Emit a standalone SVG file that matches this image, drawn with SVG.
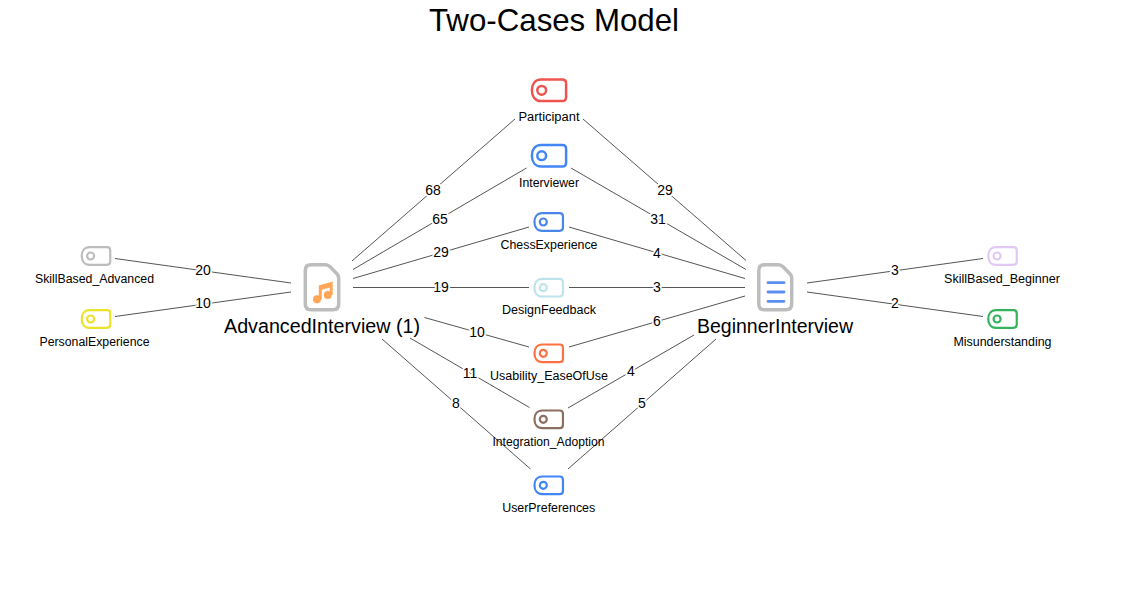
<svg xmlns="http://www.w3.org/2000/svg" width="1146" height="593" viewBox="0 0 1146 593">
<style>
text{font-family:"Liberation Sans",Arial,sans-serif;fill:#000;text-anchor:middle}
.title{font-size:32px}
.doc{font-size:20px}
.tagl{font-size:12px}
.el{font-size:14px;stroke:#fff;stroke-width:3.500px;paint-order:stroke;stroke-linejoin:round}
#connectors line{stroke:#555;stroke-width:1}
.t{fill:#fff;stroke-width:2.200;stroke-linejoin:round}
.tl{stroke-width:2.500}
.d{fill:#fff;stroke:#bdbdbd;stroke-width:3.500;stroke-linejoin:round}
</style>
<defs>
<g id="tag-l"><path class="t tl" d="M-8-10.800H13.300Q17.100-10.800 17.100-7V7Q17.100 10.800 13.300 10.800H-8C-14 10.800-17.100 6-17.100 0S-14-10.800-8-10.800Z"/><circle class="t tl" cx="-7.300" cy="0" r="4.400"/></g>
<g id="tag-s"><path class="t" d="M-6.500-8.800H11Q14.250-8.800 14.250-5.600V5.600Q14.250 8.800 11 8.800H-6.500C-11.500 8.800-14.250 5-14.250 0S-11.500-8.800-6.500-8.800Z"/><circle class="t" cx="-5.400" cy="0" r="3.500"/></g>
</defs>
<text class="title" x="554" y="31" textLength="250" lengthAdjust="spacingAndGlyphs">Two-Cases Model</text>
<g id="connectors">
<line x1="515" y1="119" x2="352" y2="261"/>
<line x1="526.500" y1="168" x2="353" y2="269.500"/>
<line x1="529" y1="227" x2="353" y2="278.500"/>
<line x1="529" y1="287.500" x2="353" y2="287.500"/>
<line x1="529" y1="347" x2="424.500" y2="317.500"/>
<line x1="529.500" y1="407.500" x2="410" y2="338"/>
<line x1="530.500" y1="469" x2="382" y2="339"/>
<line x1="583" y1="119" x2="746" y2="260.500"/>
<line x1="571" y1="168" x2="746" y2="269.500"/>
<line x1="569" y1="227" x2="745" y2="278.500"/>
<line x1="569" y1="287.500" x2="745" y2="287.500"/>
<line x1="569" y1="347" x2="745" y2="296"/>
<line x1="568" y1="408" x2="694" y2="335"/>
<line x1="568" y1="469" x2="716" y2="339"/>
<line x1="115" y1="258.500" x2="291" y2="283"/>
<line x1="115" y1="316.500" x2="291" y2="292"/>
<line x1="807" y1="283" x2="983" y2="258.500"/>
<line x1="807" y1="292" x2="983" y2="316.500"/>
<text class="el" x="433" y="195">68</text>
<text class="el" x="440" y="224">65</text>
<text class="el" x="441" y="257">29</text>
<text class="el" x="441" y="292">19</text>
<text class="el" x="477" y="337">10</text>
<text class="el" x="470" y="378">11</text>
<text class="el" x="456" y="408">8</text>
<text class="el" x="665" y="195">29</text>
<text class="el" x="658" y="224">31</text>
<text class="el" x="657" y="258">4</text>
<text class="el" x="657" y="292">3</text>
<text class="el" x="657" y="326">6</text>
<text class="el" x="631" y="376">4</text>
<text class="el" x="642" y="408">5</text>
<text class="el" x="203" y="275">20</text>
<text class="el" x="203" y="308">10</text>
<text class="el" x="895" y="275">3</text>
<text class="el" x="895" y="308">2</text>
</g>
<g id="AdvancedInterview">
<path class="d" d="M311 264.800H325.500Q328 264.800 330 266.800L336.700 273.500Q338.700 275.500 338.700 278V304Q338.700 309.800 333 309.800H311Q305.300 309.800 305.300 304V270.500Q305.300 264.800 311 264.800Z"/>
<path fill="#ffa657" d="M318.800 285.500 332.700 281.600V295H329.700V287.600L321.800 289.700V299.500H318.800Z"/>
<circle cx="317" cy="299.300" r="4" fill="#ffa657"/>
<circle cx="327.800" cy="295" r="4" fill="#ffa657"/>
<text class="doc" x="322" y="333" textLength="196" lengthAdjust="spacingAndGlyphs">AdvancedInterview (1)</text>
</g>
<g id="BeginnerInterview">
<path class="d" d="M764.500 264.800H778.500Q781 264.800 783 266.800L789.700 273.500Q791.700 275.500 791.700 278V304Q791.700 309.800 786 309.800H764.500Q758.800 309.800 758.800 304V270.500Q758.800 264.800 764.500 264.800Z"/>
<path fill="none" stroke="#5b8def" stroke-width="2.800" stroke-linecap="round" d="M768 282.700H784M768 292H784M768 301.300H784"/>
<text class="doc" x="775" y="333" textLength="156" lengthAdjust="spacingAndGlyphs">BeginnerInterview</text>
</g>
<g id="Participant"><use href="#tag-l" x="549" y="90.300" style="stroke:#ef5350"/><text class="tagl" x="549" y="121" textLength="61" lengthAdjust="spacingAndGlyphs">Participant</text></g>
<g id="Interviewer"><use href="#tag-l" x="549" y="155.700" style="stroke:#4285f4"/><text class="tagl" x="549" y="187" textLength="60" lengthAdjust="spacingAndGlyphs">Interviewer</text></g>
<g id="ChessExperience"><use href="#tag-s" x="548.700" y="222" style="stroke:#4a86e8"/><text class="tagl" x="549" y="249" textLength="97" lengthAdjust="spacingAndGlyphs">ChessExperience</text></g>
<g id="DesignFeedback"><use href="#tag-s" x="548.700" y="287.700" style="stroke:#bde4ea"/><text class="tagl" x="549" y="314" textLength="94" lengthAdjust="spacingAndGlyphs">DesignFeedback</text></g>
<g id="Usability_EaseOfUse"><use href="#tag-s" x="548.700" y="353.300" style="stroke:#ff7043"/><text class="tagl" x="549" y="380" textLength="118" lengthAdjust="spacingAndGlyphs">Usability_EaseOfUse</text></g>
<g id="Integration_Adoption"><use href="#tag-s" x="548.700" y="419.300" style="stroke:#8d6e63"/><text class="tagl" x="548.500" y="446" textLength="112" lengthAdjust="spacingAndGlyphs">Integration_Adoption</text></g>
<g id="UserPreferences"><use href="#tag-s" x="548.700" y="485.300" style="stroke:#4285f4"/><text class="tagl" x="548.700" y="512" textLength="93" lengthAdjust="spacingAndGlyphs">UserPreferences</text></g>
<g id="SkillBased_Advanced"><use href="#tag-s" x="96" y="256" style="stroke:#bdbdbd"/><text class="tagl" x="94.500" y="283" textLength="119" lengthAdjust="spacingAndGlyphs">SkillBased_Advanced</text></g>
<g id="PersonalExperience"><use href="#tag-s" x="96" y="319" style="stroke:#ebe22a"/><text class="tagl" x="94.500" y="346" textLength="110" lengthAdjust="spacingAndGlyphs">PersonalExperience</text></g>
<g id="SkillBased_Beginner"><use href="#tag-s" x="1002.500" y="256" style="stroke:#e1c8f5"/><text class="tagl" x="1002" y="283" textLength="116" lengthAdjust="spacingAndGlyphs">SkillBased_Beginner</text></g>
<g id="Misunderstanding"><use href="#tag-s" x="1002.500" y="319" style="stroke:#34b35c"/><text class="tagl" x="1002.500" y="346" textLength="98" lengthAdjust="spacingAndGlyphs">Misunderstanding</text></g>
</svg>
